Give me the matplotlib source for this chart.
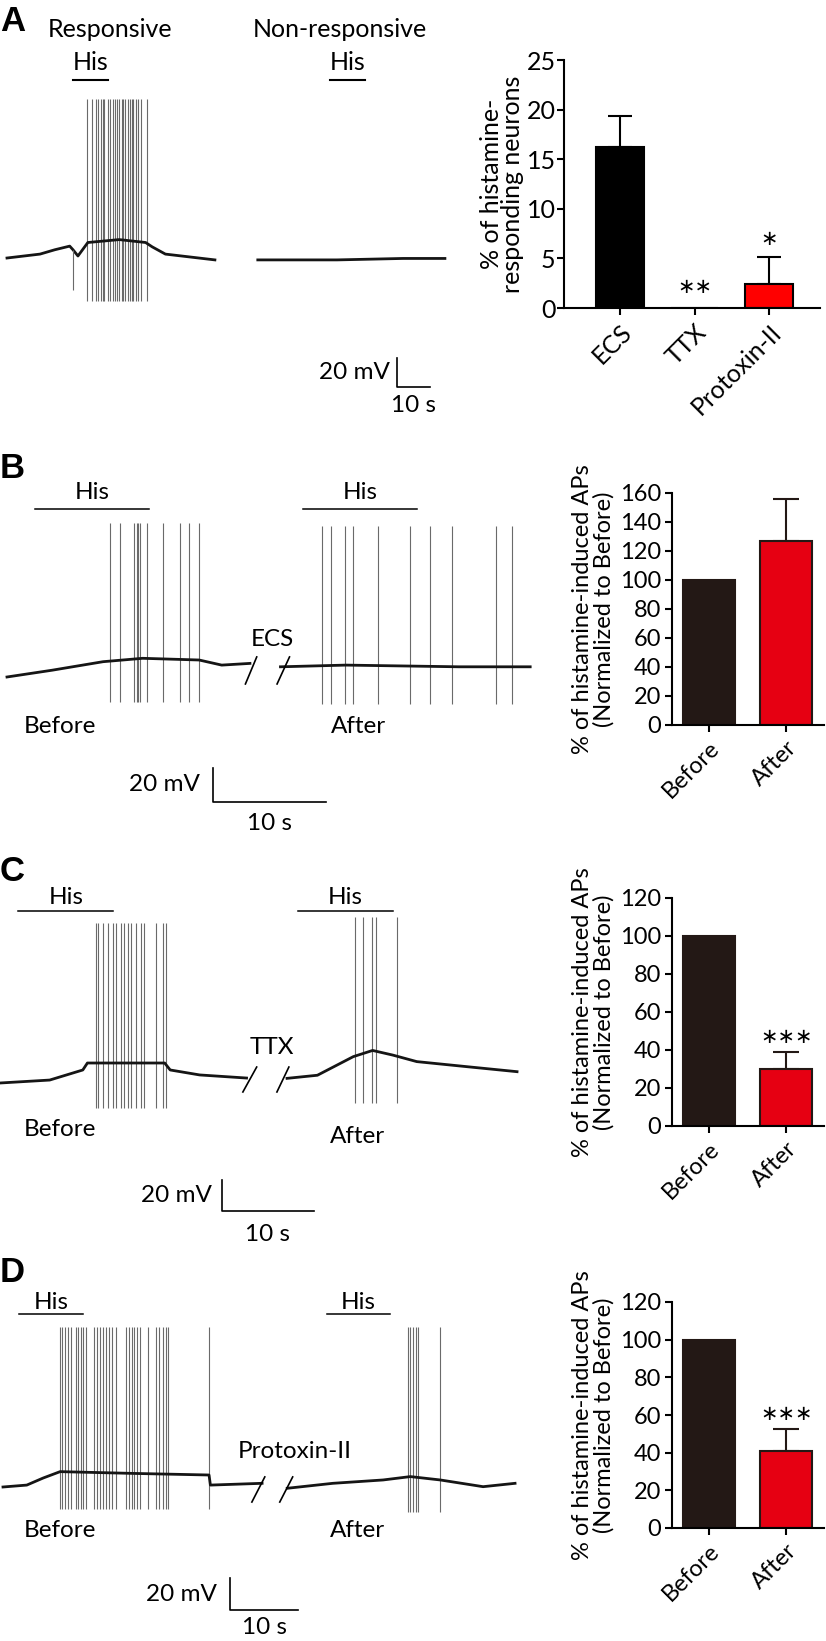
import matplotlib
matplotlib.use("Agg")
import matplotlib.pyplot as plt

W, H = 826, 1641
plt.rcParams['font.family'] = ['Lato', 'DejaVu Sans']
plt.rcParams['font.size'] = 17

# ---------------- data ----------------
# A: traces (time s, membrane potential mV relative to rest)
a_resp_t = [0, 10, 14.5, 19, 20, 21.5, 24.5, 34, 42, 44, 48, 63]
a_resp_v = [-0.7, 2, 5, 7.5, 5, 0.7, 10, 12, 10, 7, 2, -2]
a_resp_spk = [24.3, 25.7, 27.0, 27.7, 28.4, 29.0, 29.4, 30.7, 31.2, 32.0, 32.7, 33.4,
              34.0, 34.8, 35.2, 35.8, 36.8, 37.3, 37.8, 38.3, 39.0, 39.8, 40.6, 42.5]
a_artifact_t = 19.9
a_non_t = [76, 100, 120, 132.7]
a_non_v = [-2, -2, -1, -1]
a_his = [(20, 30.6), (97.9, 108.5)]

# A: bar chart
a_groups = ['ECS', 'TTX', 'Protoxin-II']
a_means = [16.2, 0, 2.4]
a_sem = [3.2, 0, 2.7]
a_sig = ['', '∗∗', '∗']

# B: ECS
b_before_t = [0, 4, 8.5, 12, 17, 19, 21.5]
b_before_v = [0, 4, 9, 11, 10, 7, 8]
b_after_t = [24.2, 30, 40, 46.3]
b_after_v = [6, 7, 6, 6]
b_before_spk = [9.1, 10.0, 11.2, 11.5, 11.6, 11.8, 12.4, 13.8, 15.3, 16.1, 17.0]
b_after_spk = [27.9, 28.7, 29.9, 30.6, 32.8, 35.7, 37.4, 39.4, 43.3, 44.7]
b_his = [(2.5, 12.6), (26.2, 36.3)]

# C: TTX
c_before_t = [0, 5.4, 9.0, 9.5, 17.9, 18.5, 21.7, 26.8]
c_before_v = [0, 1.9, 8.4, 12.9, 12.9, 8.4, 5.2, 3.2]
c_after_t = [31.2, 34.5, 38.4, 40.5, 42.7, 45.3, 50.8, 56.2]
c_after_v = [3, 5, 17, 21, 18, 13.8, 10.5, 7.3]
c_before_spk = [10.4, 10.7, 11.2, 11.7, 12.3, 12.6, 13.1, 13.5, 13.9, 14.2, 14.8,
                15.3, 15.6, 17.0, 17.7, 18.0]
c_after_spk = [38.6, 39.5, 40.4, 40.9, 43.2]
c_his = [(2.0, 12.3), (32.4, 42.7)]

# D: Protoxin-II
d_before_t = [0, 3.5, 5.9, 8.4, 19.1, 30.3, 30.5, 38.1]
d_before_v = [0, 1.2, 5.6, 9.6, 8.5, 7.5, 1.2, 2.3]
d_after_t = [41.8, 48.5, 55.9, 59.9, 64.3, 70.6, 75.3]
d_after_v = [-0.8, 2.3, 4.4, 6.5, 4.4, 0.2, 2.3]
d_before_spk = [8.4, 8.7, 9.1, 9.5, 10.0, 10.7, 11.1, 11.4, 11.8, 12.2, 13.4, 13.8,
                14.3, 14.7, 15.2, 15.6, 16.1, 16.6, 18.1, 18.5, 18.9, 19.3, 19.7, 20.1,
                21.3, 22.5, 23.0, 23.5, 23.9, 24.3, 30.3]
d_after_spk = [59.5, 59.9, 60.3, 60.7, 61.1, 64.2]
d_his = [(2.4, 11.8), (47.6, 56.9)]

# normalised AP counts (B-D)
conds = ['Before', 'After']
b_means, b_sem = [100, 127], [0, 29]
c_means, c_sem = [100, 30.2], [0, 8.6]
d_means, d_sem = [100, 40.7], [0, 11.9]

STAR_FONT = ['DejaVu Sans']

fig = plt.figure(figsize=(W / 100, H / 100), dpi=100)


def box(x0, y0, x1, y1):
    return fig.add_axes([x0 / W, 1 - y1 / H, (x1 - x0) / W, (y1 - y0) / H])


def trace_ax(top, bottom, x0, y0, px_s, px_mv, right=545):
    ax = box(0, top, right, bottom)
    ax.set_xlim(-x0 / px_s, (right - x0) / px_s)
    ax.set_ylim((y0 - bottom) / px_mv, (y0 - top) / px_mv)
    ax.axis('off')
    return ax


def trace(ax, t, v, spikes, peak, trough):
    ax.vlines(spikes, trough, peak, color='#6a6a6a', lw=0.8)
    ax.plot(t, v, color='#151515', lw=2.0, solid_joinstyle='round')


def his_bar(ax, span, y, ytxt, lw=1.1):
    ax.plot(span, [y, y], color='black', lw=lw)
    ax.text(sum(span) / 2, ytxt, 'His', ha='center', va='center', fontsize=17.5)


def scalebar(ax, t, v, xt, yt):
    ax.plot([t, t, t + 10], [v + 20, v, v], color='black', lw=1.2)
    ax.text(t - xt, v + 10, '20 mV', ha='right', va='center', fontsize=17.5)
    ax.text(t + 5, v - yt, '10 s', ha='center', va='center', fontsize=17.5)


def breaks(ax, pairs, lo, hi):
    for ta, tb in pairs:
        ax.plot([ta, tb], [lo, hi], color='black', lw=1.2)


def bar_ax(x0, y0, x1, y1, ymax, step, xlim, fs):
    ax = box(x0, y0, x1, y1)
    ax.set_ylim(0, ymax)
    ax.set_xlim(*xlim)
    ax.set_yticks(range(0, ymax + 1, step))
    for s in ['top', 'right']:
        ax.spines[s].set_visible(False)
    for s in ['left', 'bottom']:
        ax.spines[s].set_linewidth(1.5)
    ax.tick_params(width=1.5, length=5, labelsize=fs)
    ax.patch.set_alpha(0)
    return ax


# ---------------- panel A ----------------
ax = trace_ax(40, 420, 7, 257, 3.3, 1.45, right=460)
trace(ax, a_resp_t, a_resp_v, a_resp_spk, 109, -30)
ax.vlines([a_artifact_t], -23, 5, color='#6a6a6a', lw=0.8)
ax.plot(a_non_t, a_non_v, color='#151515', lw=2.0)
ax.plot(a_his[0], [122, 122], color='black', lw=1.5)
ax.plot(a_his[1], [122, 122], color='black', lw=1.5)
ax.text(sum(a_his[0]) / 2, 134, 'His', ha='center', va='center', fontsize=18)
ax.text(sum(a_his[1]) / 2, 134, 'His', ha='center', va='center', fontsize=18)
ax.text(31.2, 157, 'Responsive', ha='center', va='center', fontsize=18)
ax.text(101, 157, 'Non-responsive', ha='center', va='center', fontsize=18)
scalebar(ax, 118.2, -89.7, 2.2, 12.5)

ax = bar_ax(564, 60, 820, 308, 25, 5, (-0.75, 2.68), 18)
xs = range(len(a_groups))
ax.bar(xs, a_means, width=0.64, color=['black', 'black', '#ff0000'],
       edgecolor='black', linewidth=1.5, zorder=2)
for i, (m, e, s) in enumerate(zip(a_means, a_sem, a_sig)):
    if e > 0:
        ax.errorbar(i, m, yerr=[[0], [e]], fmt='none', ecolor='black',
                    elinewidth=1.5, capsize=8.5, capthick=1.5, zorder=1)
    if s:
        ax.text(i, m + e + 1.9 if e > 0 else 2.1, s, ha='center', va='center',
                fontsize=15, family=STAR_FONT)
ax.set_xticks(list(xs))
ax.set_xticklabels(a_groups, rotation=45, ha='right', rotation_mode='anchor')
ax.tick_params(axis='y', pad=1)
ax.set_ylabel('% of histamine-\nresponding neurons', fontsize=18, linespacing=0.9, labelpad=2)

# ---------------- panel B ----------------
ax = trace_ax(440, 840, 7, 677, 11.3, 1.7)
trace(ax, b_before_t, b_before_v, b_before_spk, 90.6, -14.7)
trace(ax, b_after_t, b_after_v, b_after_spk, 88.8, -15.9)
his_bar(ax, b_his[0], 98.8, 108.8)
his_bar(ax, b_his[1], 98.8, 108.8)
breaks(ax, [(21.1, 22.1), (23.9, 25.0)], -4.1, 11.8)
ax.text(23.5, 21.8, 'ECS', ha='center', va='center', fontsize=17.5)
ax.text(4.7, -29.4, 'Before', ha='center', va='center', fontsize=17.5)
ax.text(31.1, -29.4, 'After', ha='center', va='center', fontsize=17.5)
scalebar(ax, 18.2, -73.5, 1.1, 12.4)

# ---------------- panel C ----------------
ax = trace_ax(840, 1250, 0, 1083, 9.2, 1.55)
trace(ax, c_before_t, c_before_v, c_before_spk, 103, -16)
trace(ax, c_after_t, c_after_v, c_after_spk, 107, -13)
his_bar(ax, c_his[0], 111, 119.4)
his_bar(ax, c_his[1], 111, 119.4)
breaks(ax, [(26.4, 27.9), (30.1, 31.4)], -5.8, 10.3)
ax.text(29.6, 23.2, 'TTX', ha='center', va='center', fontsize=17.5)
ax.text(6.5, -30.3, 'Before', ha='center', va='center', fontsize=17.5)
ax.text(38.9, -34.8, 'After', ha='center', va='center', fontsize=17.5)
scalebar(ax, 24.1, -82.6, 1.1, 15.4)

# ---------------- panel D ----------------
ax = trace_ax(1250, 1641, 3, 1487, 6.8, 1.6)
trace(ax, d_before_t, d_before_v, d_before_spk, 100, -13.8)
trace(ax, d_after_t, d_after_v, d_after_spk, 100, -15.6)
his_bar(ax, d_his[0], 108, 115.6)
his_bar(ax, d_his[1], 108, 115.6)
breaks(ax, [(36.6, 38.5), (40.7, 42.6)], -9.4, 6.3)
ax.text(42.9, 21.9, 'Protoxin-II', ha='center', va='center', fontsize=17.5)
ax.text(8.4, -26.9, 'Before', ha='center', va='center', fontsize=17.5)
ax.text(52.2, -26.9, 'After', ha='center', va='center', fontsize=17.5)
scalebar(ax, 33.4, -76.9, 1.9, 11.2)

# ---------------- bar charts B-D ----------------
for (y0, y1, ymax, means, sem, sig) in [(493, 725, 160, b_means, b_sem, ''),
                                        (898, 1126, 120, c_means, c_sem, '∗∗∗'),
                                        (1302, 1528, 120, d_means, d_sem, '∗∗∗')]:
    ax = bar_ax(672, y0, 824, y1, ymax, 20, (-0.48, 1.49), 17)
    ax.bar([0, 1], means, width=0.675, color=['#231815', '#e60012'],
           edgecolor='#231815', linewidth=1.5, zorder=2)
    ax.errorbar(1, means[1], yerr=[[0], [sem[1]]], fmt='none', ecolor='#231815',
                elinewidth=1.5, capsize=9.5, capthick=1.5, zorder=1)
    if sig:
        ax.text(1, means[1] + sem[1] + ymax * 0.066, sig, ha='center', va='center',
                fontsize=15, family=STAR_FONT)
    ax.set_xticks([0, 1])
    ax.set_xticklabels(conds, rotation=45, ha='right', rotation_mode='anchor')
    ax.tick_params(axis='y', pad=3)
    ax.set_ylabel('% of histamine-induced APs\n(Normalized to Before)', fontsize=17,
                  linespacing=1.0, labelpad=4)

# panel letters
for lab, y in [('A', 5), ('B', 452), ('C', 855), ('D', 1256)]:
    fig.text(0 / W, 1 - y / H, lab, ha='left', va='top', fontsize=25,
             fontweight='bold', family=['Liberation Sans', 'DejaVu Sans'])

fig.savefig('out.png', dpi=100)
